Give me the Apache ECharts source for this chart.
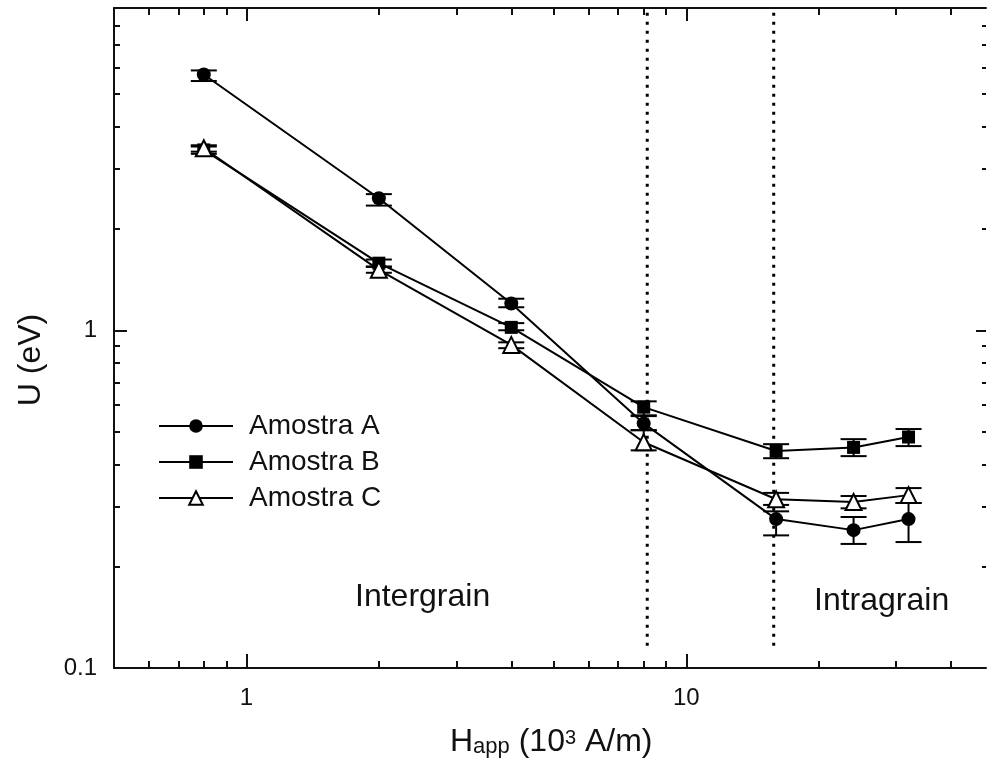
<!DOCTYPE html>
<html>
<head>
<meta charset="utf-8">
<script src="https://cdn.jsdelivr.net/npm/echarts@6/dist/echarts.min.js"></script>
<style>html,body{margin:0;padding:0;background:#fff;}#c{width:987px;height:766px;}</style>
</head>
<body>
<div id="c"></div>
<script>
// ---- data ----
const H = [0.8, 2, 4, 8, 16, 24, 32];
const A = [5.72, 2.46, 1.20, 0.53, 0.276, 0.256, 0.276];
const A_lo = [5.47, 2.34, 1.17, 0.506, 0.247, 0.233, 0.236];
const A_hi = [5.88, 2.53, 1.24, 0.557, 0.291, 0.280, 0.308];
const B = [3.42, 1.58, 1.02, 0.592, 0.439, 0.450, 0.483];
const B_lo = [3.33, 1.54, 1.00, 0.560, 0.418, 0.424, 0.454];
const B_hi = [3.50, 1.62, 1.05, 0.616, 0.460, 0.476, 0.510];
const C = [3.46, 1.51, 0.905, 0.466, 0.316, 0.310, 0.325];
const C_lo = [3.38, 1.48, 0.885, 0.441, 0.304, 0.297, 0.308];
const C_hi = [3.53, 1.545, 0.921, 0.506, 0.330, 0.323, 0.341];
const names = ['Amostra A', 'Amostra B', 'Amostra C'];
const dividers = [8.15, 15.8];
const dividerSpan = [8.72, 0.115];
const xMajor = [1, 10];
const xMinor = [0.6, 0.7, 0.8, 0.9, 2, 3, 4, 5, 6, 7, 8, 9, 20, 30, 40];
const yMajor = [0.1, 1];
const yMinor = [0.2, 0.3, 0.4, 0.5, 0.6, 0.7, 0.8, 0.9, 2, 3, 4, 5, 6, 7, 8];
const xRange = [0.5, 48];
const yRange = [0.1, 9];

const FONT = 'Liberation Sans, Arial, sans-serif';
const INK = '#111';

function pairs(xs, ys) { return xs.map((x, i) => [x, ys[i]]); }
function triples(xs, lo, hi) { return xs.map((x, i) => [x, lo[i], hi[i]]); }

function xAx(pos, ticks, len, showLine, showLabel) {
  return {
    type: 'log', logBase: 10, min: xRange[0], max: xRange[1], position: pos,
    axisLine: { show: showLine, onZero: false, lineStyle: { color: INK, width: 2 } },
    axisTick: { show: true, inside: true, length: len, customValues: ticks, lineStyle: { color: INK, width: 2 } },
    axisLabel: showLabel ? { show: true, customValues: xMajor, fontSize: 24, margin: 18, color: INK, fontFamily: FONT } : { show: false },
    splitLine: { show: false }, minorTick: { show: false }
  };
}
function yAx(pos, ticks, len, showLine, showLabel) {
  return {
    type: 'log', logBase: 10, min: yRange[0], max: yRange[1], position: pos,
    axisLine: { show: showLine, onZero: false, lineStyle: { color: INK, width: 2 } },
    axisTick: { show: true, inside: true, length: len, customValues: ticks, lineStyle: { color: INK, width: 2 } },
    axisLabel: showLabel ? { show: true, customValues: yMajor, fontSize: 24, margin: 17, color: INK, fontFamily: FONT,
      formatter: v => String(+v.toPrecision(3)) } : { show: false },
    splitLine: { show: false }, minorTick: { show: false }
  };
}

function errSeries(name, data) {
  return {
    type: 'custom', name: name, xAxisIndex: 0, yAxisIndex: 0, z: 1, silent: true,
    encode: { x: 0, y: [1, 2] },
    data: data,
    renderItem: function (params, api) {
      const x = api.value(0), lo = api.value(1), hi = api.value(2);
      const p1 = api.coord([x, hi]), p2 = api.coord([x, lo]);
      const w = 13;
      const st = { stroke: '#000', lineWidth: 2 };
      return { type: 'group', children: [
        { type: 'line', shape: { x1: p1[0], y1: p1[1], x2: p2[0], y2: p2[1] }, style: st },
        { type: 'line', shape: { x1: p1[0] - w, y1: p1[1], x2: p1[0] + w, y2: p1[1] }, style: st },
        { type: 'line', shape: { x1: p2[0] - w, y1: p2[1], x2: p2[0] + w, y2: p2[1] }, style: st }
      ] };
    }
  };
}

function lineSeries(name, ys, symbol, size, fill) {
  return {
    type: 'line', name: name, xAxisIndex: 0, yAxisIndex: 0, z: 3,
    data: pairs(H, ys), symbol: symbol, symbolSize: size, showAllSymbol: true,
    lineStyle: { color: '#000', width: 2 },
    itemStyle: { color: fill, borderColor: '#000', borderWidth: fill === '#fff' ? 2 : 0 },
    emphasis: { disabled: true }, animation: false
  };
}

const chart = echarts.init(document.getElementById('c'), null, { renderer: 'canvas' });
chart.setOption({
  animation: false,
  backgroundColor: '#fff',
  textStyle: { fontFamily: FONT },
  grid: { left: 114, right: 1, top: 8, bottom: 98, containLabel: false },
  xAxis: [
    xAx('bottom', xMajor, 14, true, true),
    xAx('bottom', xMinor, 7, false, false),
    xAx('top', xMajor, 13, true, false),
    xAx('top', xMinor, 7, false, false)
  ],
  yAxis: [
    yAx('left', yMajor, 13, true, true),
    yAx('left', yMinor, 6, false, false),
    yAx('right', yMajor, 10, false, false),
    yAx('right', yMinor, 4, false, false)
  ],
  legend: {
    data: names, orient: 'vertical', left: 153, top: 407,
    itemWidth: 74, itemHeight: 17, itemGap: 8,
    textStyle: { fontSize: 28, color: INK, fontFamily: FONT, padding: [0, 0, 0, 11] },
    selectedMode: false
  },
  graphic: [
    { type: 'text', left: 355, top: 581, style: { text: 'Intergrain', fontSize: 32, fill: INK, fontFamily: FONT } },
    { type: 'text', left: 814, top: 585, style: { text: 'Intragrain', fontSize: 32, fill: INK, fontFamily: FONT } },
    { type: 'text', x: 31, y: 360, rotation: Math.PI / 2,
      style: { text: 'U (eV)', fontSize: 32, fill: INK, fontFamily: FONT, align: 'center', verticalAlign: 'middle' } },
    { type: 'text', left: 450, top: 726, style: {
      text: '{m|H}{sub|app}{m| (10}{sup|3}{m| A/m)}', fill: INK, fontFamily: FONT,
      rich: {
        m: { fontSize: 32, lineHeight: 32, verticalAlign: 'middle', fontFamily: FONT, fill: INK },
        sub: { fontSize: 22, lineHeight: 22, verticalAlign: 'bottom', fontFamily: FONT, fill: INK },
        sup: { fontSize: 20, lineHeight: 20, verticalAlign: 'top', fontFamily: FONT, fill: INK, padding: [2, 0, 0, 0] }
      }
    } }
  ],
  series: [
    errSeries('errA', triples(H, A_lo, A_hi)),
    errSeries('errB', triples(H, B_lo, B_hi)),
    errSeries('errC', triples(H, C_lo, C_hi)),
    lineSeries(names[0], A, 'circle', 14, '#000'),
    lineSeries(names[1], B, 'rect', 13, '#000'),
    lineSeries(names[2], C, 'triangle', 16, '#fff'),
    {
      type: 'custom', name: 'dividers', xAxisIndex: 0, yAxisIndex: 0, z: 0, silent: true,
      data: dividers.map(x => [x, dividerSpan[0], dividerSpan[1]]),
      encode: { x: 0, y: [1, 2] },
      renderItem: function (params, api) {
        const x = api.value(0);
        const p1 = api.coord([x, api.value(1)]), p2 = api.coord([x, api.value(2)]);
        return { type: 'line', shape: { x1: p1[0], y1: p1[1], x2: p2[0], y2: p2[1] },
          style: { stroke: '#000', lineWidth: 3, lineDash: [3, 6] } };
      }
    }
  ]
});
</script>
</body>
</html>
